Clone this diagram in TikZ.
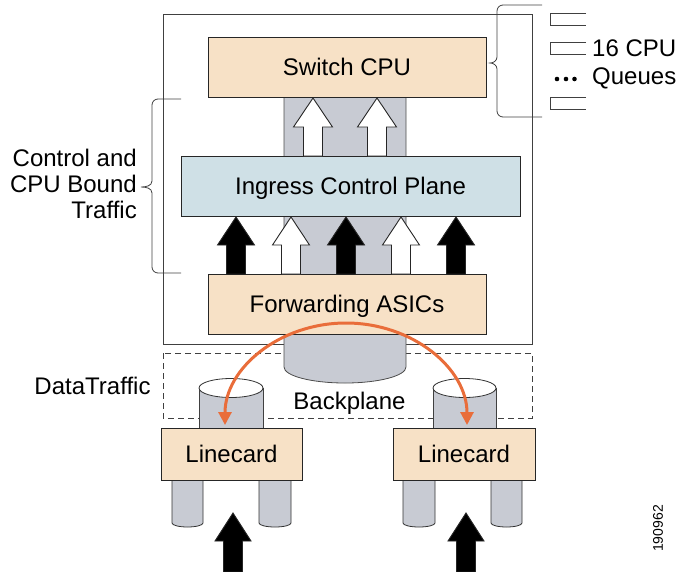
\documentclass[tikz,border=0pt]{standalone}
\usepackage{fontspec}
\setmainfont{Liberation Sans}
\usetikzlibrary{arrows.meta}
\definecolor{beige}{HTML}{F7E1C6}
\definecolor{lblue}{HTML}{CFE0E6}
\definecolor{cgray}{HTML}{C8CBD3}
\definecolor{corange}{HTML}{E96D3A}
\newcommand\myblockarrow[6]{%
  \filldraw[fill=#6, draw=black!85, line width=0.9pt] (#1,-#2) -- ({#1+#5},-#3) -- ({#1+9.5},-#3) -- ({#1+9.5},-#4) -- ({#1-9.5},-#4) -- ({#1-9.5},-#3) -- ({#1-#5},-#3) -- cycle;}
\begin{document}
\begin{tikzpicture}[x=1pt,y=1pt,
  box/.style={draw=black!85, line width=1pt, inner sep=0pt, text height=17.2pt, text depth=0pt, font=\fontsize{24}{28}\selectfont},
  lbl/.style={inner sep=0pt, font=\fontsize{24}{28}\selectfont},
  thinline/.style={draw=black!75, line width=0.8pt},
  cyl/.style={fill=cgray, draw=black!80, line width=0.8pt}]
\useasboundingbox (0,0) rectangle (677,-571);
% outer chassis and backplane area
\draw[thinline] (163,-14) rectangle (532,-344);
\draw[thinline, dash pattern=on 6pt off 4pt] (163,-353) rectangle (532,-418);
% central column
\filldraw[cyl, draw=black!70] (284,-97) -- (284,-367) arc[start angle=180, end angle=360, x radius=61, y radius=16] -- (406,-97);
% main boxes
\node[box, fill=beige, minimum width=278pt, minimum height=60pt] (cpu) at (347,-67) {Switch CPU};
\node[box, fill=lblue, minimum width=339pt, minimum height=60pt] (icp) at (350.5,-186) {Ingress Control Plane};
\node[box, fill=beige, minimum width=278pt, minimum height=60pt] (asic) at (347,-304) {Forwarding ASICs};
% block arrows
\myblockarrow{313}{98}{127}{156}{19.5}{white}
\myblockarrow{377}{98}{127}{156}{19.5}{white}
\myblockarrow{236}{217}{245}{274}{18.5}{black}
\myblockarrow{291}{217}{245}{274}{18.5}{white}
\myblockarrow{346}{217}{245}{274}{18.5}{black}
\myblockarrow{401}{217}{245}{274}{18.5}{white}
\myblockarrow{456}{217}{245}{274}{18.5}{black}
\myblockarrow{233}{513}{541}{572}{18}{black}
\myblockarrow{466}{513}{541}{572}{18}{black}
% small cylinders above linecards
\fill[cgray] (199,-388) rectangle (263,-432);
\draw[thinline] (199,-388) -- (199,-432) (263,-388) -- (263,-432);
\filldraw[fill=white, draw=black!80, line width=0.8pt] (231,-388) ellipse [x radius=32, y radius=9.5];
\fill[cgray] (433,-388) rectangle (496,-432);
\draw[thinline] (433,-388) -- (433,-432) (496,-388) -- (496,-432);
\filldraw[fill=white, draw=black!80, line width=0.8pt] (464.5,-388) ellipse [x radius=31.5, y radius=9.5];
% legs below linecards
\filldraw[cyl] (172,-476) -- (172,-523) arc[start angle=180, end angle=360, x radius=15.5, y radius=4] -- (203,-476);
\filldraw[cyl] (259,-476) -- (259,-523) arc[start angle=180, end angle=360, x radius=16, y radius=4] -- (291,-476);
\filldraw[cyl] (403,-476) -- (403,-523) arc[start angle=180, end angle=360, x radius=16, y radius=4] -- (435,-476);
\filldraw[cyl] (491,-476) -- (491,-523) arc[start angle=180, end angle=360, x radius=15.5, y radius=4] -- (522,-476);
% linecards
\node[box, fill=beige, minimum width=141pt, minimum height=52pt] (lcl) at (231.5,-454) {Linecard};
\node[box, fill=beige, minimum width=142pt, minimum height=52pt] (lcr) at (464,-454) {Linecard};
% orange data traffic arc
\coordinate (arcL) at (225,-425);
\draw[corange, line width=3pt, {Triangle[length=13pt,width=13pt]}-{Triangle[length=13pt,width=13pt]}] (arcL) arc[start angle=180, end angle=0, x radius=121, y radius=102];
% braces
\draw[thinline] (181,-99) -- (158,-99) to[out=180,in=90] (152,-105) -- (152,-181) to[out=-90,in=0] (141,-187) to[out=0,in=90] (152,-193) -- (152,-267) to[out=-90,in=180] (158,-273) -- (181,-273);
\draw[thinline] (542,-5) -- (503,-5) to[out=180,in=90] (497,-11) -- (497,-57) to[out=-90,in=0] (490,-63) to[out=0,in=90] (497,-69) -- (497,-111) to[out=-90,in=180] (503,-117) -- (542,-117);
% queues
\draw[thinline] (586,-13) -- (550,-13) -- (550,-25) -- (586,-25);
\draw[thinline] (586,-42) -- (550,-42) -- (550,-54) -- (586,-54);
\draw[thinline] (586,-97) -- (550,-97) -- (550,-109) -- (586,-109);
\fill (557,-79) circle (2.3) (566,-79) circle (2.3) (574.5,-79) circle (2.3);
% labels
\node[lbl, anchor=base west] (q1) at (592,-56) {16 CPU};
\node[lbl, anchor=base west] (q2) at (592,-84) {Queues};
\node[lbl, anchor=base east] (c1) at (137,-166) {Control and};
\node[lbl, anchor=base east] (c2) at (137,-192) {CPU Bound};
\node[lbl, anchor=base east] (c3) at (137,-218) {Traffic};
\node[lbl, anchor=base] (dt) at (92.5,-394.5) {DataTraffic};
\node[lbl, anchor=base] (bp) at (349.5,-409) {Backplane};
\node[inner sep=0pt, rotate=90, font=\fontsize{14}{16}\selectfont] (fig) at (658,-528.5) {190962};
\end{tikzpicture}
\end{document}
